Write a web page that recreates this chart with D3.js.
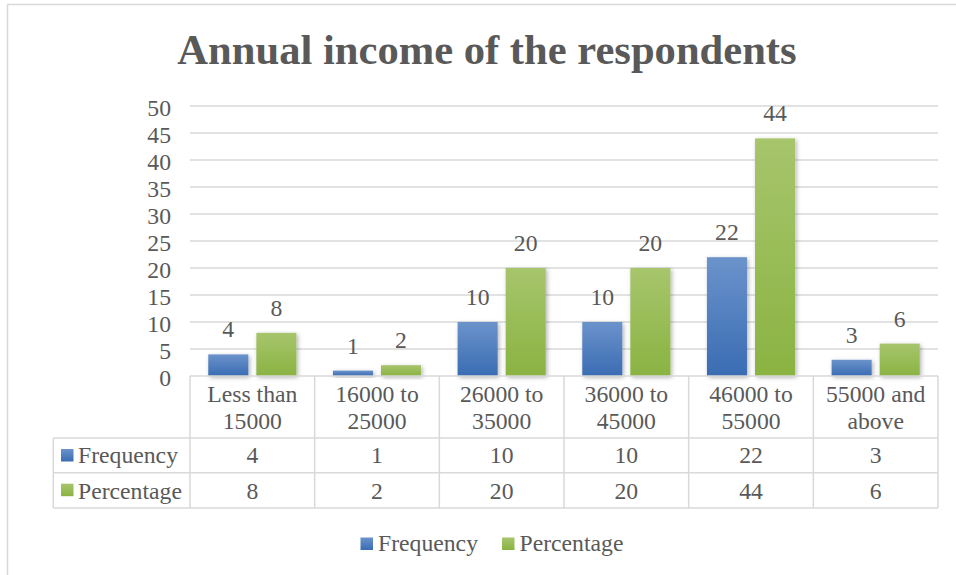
<!DOCTYPE html>
<html>
<head>
<meta charset="utf-8">
<script src="https://cdn.jsdelivr.net/npm/d3@7/dist/d3.min.js"></script>
<style>
  html, body { margin: 0; padding: 0; background: #fff; }
  svg { display: block; }
  text { font-family: "Liberation Serif", "Times New Roman", serif; fill: #595959; }
</style>
</head>
<body>
<svg id="chart" width="956" height="575"></svg>
<script>
// Income bands and respondent counts
const categories = [["Less than", "15000"], ["16000 to", "25000"], ["26000 to", "35000"], ["36000 to", "45000"], ["46000 to", "55000"], ["55000 and", "above"]];
const seriesNames = ["Frequency", "Percentage"];
const frequency = [4, 1, 10, 10, 22, 3];
const percentage = [8, 2, 20, 20, 44, 6];
const yTicks = [0, 5, 10, 15, 20, 25, 30, 35, 40, 45, 50];

const seriesValues = [frequency, percentage];
const colorsTop = ["#6b93cb", "#a7c56c"];
const colorsBottom = ["#3a6cb3", "#8ab342"];

const svg = d3.select("#chart");
const fs = 23.7;

// Plot geometry
const plotLeft = 190, plotRight = 938, plotTop = 106, plotBottom = 376;
const rowH = [62, 34.7, 35.3];

// Outer chart frame (extends past the window on right and bottom)
svg.append("rect")
  .attr("x", 7.5).attr("y", 4.5)
  .attr("width", 1000).attr("height", 1000)
  .attr("fill", "#fff").attr("stroke", "#d9d9d9").attr("stroke-width", 1.5);

const defs = svg.append("defs");
seriesNames.forEach((n, i) => {
  const g = defs.append("linearGradient").attr("id", "grad" + i)
    .attr("x1", 0).attr("y1", 0).attr("x2", 0).attr("y2", 1);
  g.append("stop").attr("offset", "0%").attr("stop-color", colorsTop[i]);
  g.append("stop").attr("offset", "100%").attr("stop-color", colorsBottom[i]);
});
const f = defs.append("filter").attr("id", "shadow")
  .attr("x", "-30%").attr("y", "-30%").attr("width", "160%").attr("height", "160%");
f.append("feDropShadow").attr("dx", 1.5).attr("dy", 1.5).attr("stdDeviation", 2)
  .attr("flood-color", "#000").attr("flood-opacity", 0.3);

// Title
svg.append("text")
  .attr("x", 487).attr("y", 64)
  .attr("text-anchor", "middle")
  .style("font-size", "42.6px").style("font-weight", "bold")
  .text("Annual income of the respondents");

const x = d3.scaleBand().domain(d3.range(categories.length)).range([plotLeft, plotRight]).paddingInner(0).paddingOuter(0);
const y = d3.scaleLinear().domain([0, 50]).range([plotBottom, plotTop]);
const xs = d3.scaleBand().domain(seriesNames).range([0, x.bandwidth()]).paddingInner(0.167).paddingOuter(0.38);

// Gridlines
svg.append("g").selectAll("line").data(yTicks.filter(t => t > 0)).join("line")
  .attr("x1", plotLeft).attr("x2", plotRight)
  .attr("y1", d => y(d)).attr("y2", d => y(d))
  .attr("stroke", "#d9d9d9").attr("stroke-width", 1.5);

// Y axis labels
const yAxis = d3.axisLeft(y).tickValues(yTicks).tickSize(0).tickPadding(0);
const ya = svg.append("g").attr("transform", "translate(171,0)").call(yAxis);
ya.select(".domain").remove();
ya.attr("font-family", null).attr("font-size", null);
ya.selectAll("text")
  .attr("fill", null)
  .style("font-size", fs + "px")
  .attr("dy", "0.4em");

// Bars
seriesNames.forEach((name, si) => {
  const vals = seriesValues[si];
  svg.append("g").selectAll("rect").data(vals).join("rect")
    .attr("x", (d, i) => x(i) + xs(name))
    .attr("y", d => y(d))
    .attr("width", xs.bandwidth())
    .attr("height", d => plotBottom - y(d))
    .attr("fill", `url(#grad${si})`)
    .attr("filter", "url(#shadow)");
  svg.append("g").selectAll("text").data(vals).join("text")
    .attr("x", (d, i) => x(i) + xs(name) + xs.bandwidth() / 2)
    .attr("y", d => y(d) - 17)
    .attr("text-anchor", "middle")
    .style("font-size", fs + "px")
    .text(d => d);
});

// Data table
const tbl = svg.append("g");
const tableLeft = 53.3;
const r0 = plotBottom, r1 = r0 + rowH[0], r2 = r1 + rowH[1], r3 = r2 + rowH[2];
const lineC = "#d9d9d9", lw = 1.5;
tbl.append("line").attr("x1", plotLeft).attr("x2", plotRight).attr("y1", r0).attr("y2", r0).attr("stroke", lineC).attr("stroke-width", lw);
[r1, r2, r3].forEach(yy => tbl.append("line").attr("x1", tableLeft).attr("x2", plotRight).attr("y1", yy).attr("y2", yy).attr("stroke", lineC).attr("stroke-width", lw));
d3.range(categories.length + 1).forEach(i => {
  const xx = i < categories.length ? x(i) : plotRight;
  tbl.append("line").attr("x1", xx).attr("x2", xx).attr("y1", r0).attr("y2", r3).attr("stroke", lineC).attr("stroke-width", lw);
});
tbl.append("line").attr("x1", tableLeft).attr("x2", tableLeft).attr("y1", r1).attr("y2", r3).attr("stroke", lineC).attr("stroke-width", lw);

// Category headers
categories.forEach((c, i) => {
  const cx = x(i) + x.bandwidth() / 2;
  const t = tbl.append("text")
    .attr("x", cx).attr("y", 401.7)
    .attr("text-anchor", "middle").style("font-size", fs + "px");
  t.append("tspan").attr("x", cx).text(c[0]);
  t.append("tspan").attr("x", cx).attr("dy", 27.6).text(c[1]);
});

// Series rows
const rowBase = [462.7, 499.3];
seriesNames.forEach((name, si) => {
  const rowTop = si === 0 ? r1 : r2;
  tbl.append("rect").attr("x", 61).attr("y", rowTop + 11).attr("width", 12.5).attr("height", 12.5)
    .attr("fill", `url(#grad${si})`);
  tbl.append("text").attr("x", 78).attr("y", rowBase[si]).style("font-size", fs + "px").text(name);
  tbl.append("g").selectAll("text").data(seriesValues[si]).join("text")
    .attr("x", (d, i) => x(i) + x.bandwidth() / 2).attr("y", rowBase[si])
    .attr("text-anchor", "middle").style("font-size", fs + "px")
    .text(d => d);
});

// Legend
const legendKeyX = [360.5, 502];
seriesNames.forEach((name, si) => {
  svg.append("rect").attr("x", legendKeyX[si]).attr("y", 537.5).attr("width", 12.5).attr("height", 12.5)
    .attr("fill", `url(#grad${si})`);
  svg.append("text").attr("x", legendKeyX[si] + 17.5).attr("y", 551).style("font-size", fs + "px").text(name);
});
</script>
</body>
</html>
